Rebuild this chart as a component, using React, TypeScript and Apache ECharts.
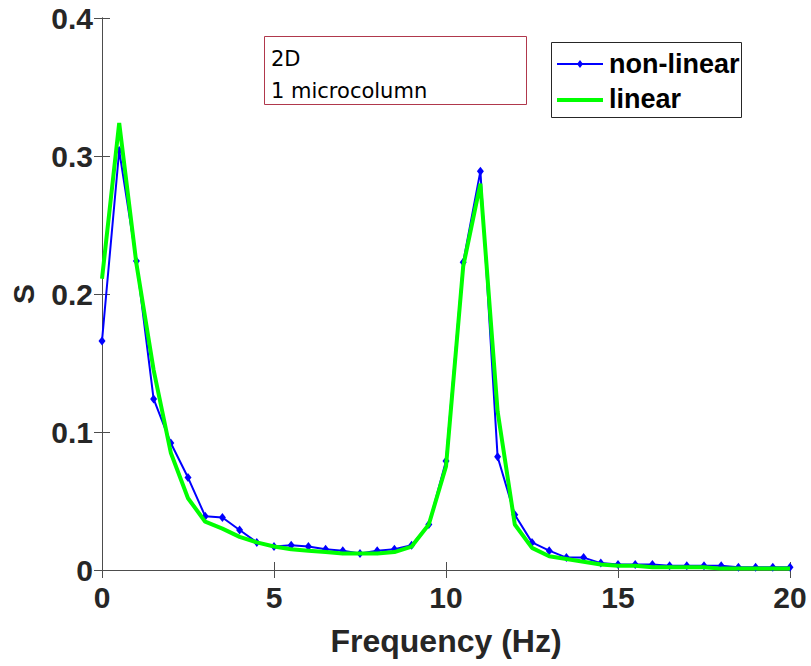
import React, { useEffect, useRef } from "react";
import * as echarts from "echarts";

const freq: number[] = [];
for (let i = 0; i <= 40; i++) freq.push(i * 0.5);

const nonLinear = [
  0.166, 0.304, 0.224, 0.124, 0.092, 0.067, 0.039, 0.038, 0.029, 0.020,
  0.017, 0.018, 0.017, 0.015, 0.014, 0.012, 0.014, 0.015, 0.018, 0.033,
  0.079, 0.223, 0.289, 0.082, 0.040, 0.020, 0.014, 0.009, 0.009, 0.005,
  0.004, 0.004, 0.004, 0.003, 0.003, 0.003, 0.003, 0.002, 0.002, 0.002,
  0.002,
];

const linear = [
  0.211, 0.324, 0.222, 0.145, 0.085, 0.052, 0.035, 0.030, 0.024, 0.020,
  0.017, 0.015, 0.014, 0.013, 0.012, 0.012, 0.012, 0.013, 0.017, 0.033,
  0.075, 0.220, 0.280, 0.115, 0.033, 0.016, 0.010, 0.008, 0.006, 0.004,
  0.003, 0.003, 0.002, 0.002, 0.002, 0.002, 0.001, 0.001, 0.001, 0.001,
  0.001,
];

const seriesNames = ["non-linear", "linear"];
const annotationLines = ["2D", "1 microcolumn"];

const FONT = "Liberation Sans, Arial, sans-serif";
const AXIS_COLOR = "#262626";

export default function App() {
  const ref = useRef<HTMLDivElement>(null);
  useEffect(() => {
    if (!ref.current) return;
    const chart = echarts.init(ref.current, null, { renderer: "svg" });
    const axisLine = { show: true, lineStyle: { color: "#4d4d4d", width: 1 } };
    const tick = { show: true, inside: true, length: 8, lineStyle: { color: "#4d4d4d" } };
    chart.setOption({
      animation: false,
      backgroundColor: "#fff",
      grid: { left: 101, right: 21, top: 18, bottom: 96 },
      xAxis: [
        {
          type: "value",
          min: 0,
          max: 20,
          interval: 5,
          name: "Frequency (Hz)",
          nameLocation: "middle",
          nameGap: 55,
          nameTextStyle: { fontFamily: FONT, fontWeight: "bold", fontSize: 32, color: AXIS_COLOR },
          axisLine,
          axisTick: tick,
          axisLabel: { fontFamily: FONT, fontWeight: "bold", fontSize: 30, color: AXIS_COLOR, margin: 12 },
          splitLine: { show: false },
        },
        {
          type: "value",
          position: "top",
          min: 0,
          max: 20,
          interval: 5,
          axisLine,
          axisTick: tick,
          axisLabel: { show: false },
          splitLine: { show: false },
        },
      ],
      yAxis: [
        {
          type: "value",
          min: 0,
          max: 0.4,
          interval: 0.1,
          name: "S",
          nameLocation: "middle",
          nameGap: 64,
          nameTextStyle: { fontFamily: FONT, fontWeight: "bold", fontSize: 30, color: AXIS_COLOR },
          axisLine,
          axisTick: tick,
          axisLabel: {
            fontFamily: FONT,
            fontWeight: "bold",
            fontSize: 30,
            color: AXIS_COLOR,
            margin: 9,
            formatter: (v: number) => (v === 0 ? "0" : v.toFixed(1)),
          },
          splitLine: { show: false },
        },
        {
          type: "value",
          position: "right",
          min: 0,
          max: 0.4,
          interval: 0.1,
          axisLine,
          axisTick: tick,
          axisLabel: { show: false },
          splitLine: { show: false },
        },
      ],
      graphic: [
        {
          type: "rect",
          shape: { x: 264.5, y: 36.5, width: 262, height: 68 },
          style: { fill: "#fff", stroke: "#b0384c", lineWidth: 1 },
          z: 10,
        },
        {
          type: "text",
          x: 271,
          y: 59,
          style: { text: annotationLines[0], font: `21px DejaVu Sans`, fill: "#000", verticalAlign: "middle" },
          z: 11,
        },
        {
          type: "text",
          x: 271,
          y: 91,
          style: { text: annotationLines[1], font: `21px DejaVu Sans`, fill: "#000", verticalAlign: "middle" },
          z: 11,
        },
        {
          type: "rect",
          shape: { x: 551.5, y: 42.5, width: 190, height: 75 },
          style: { fill: "#fff", stroke: "#262626", lineWidth: 1 },
          z: 10,
        },
        {
          type: "line",
          shape: { x1: 557, y1: 64, x2: 603, y2: 64 },
          style: { stroke: "#0000ff", lineWidth: 2 },
          z: 11,
        },
        {
          type: "polygon",
          shape: { points: [[580, 60], [583, 64], [580, 68], [577, 64]] },
          style: { fill: "#0000ff" },
          z: 11,
        },
        {
          type: "line",
          shape: { x1: 557, y1: 100, x2: 603, y2: 100 },
          style: { stroke: "#00ff00", lineWidth: 4 },
          z: 11,
        },
        {
          type: "text",
          x: 609,
          y: 64,
          style: { text: seriesNames[0], font: `bold 27px ${FONT}`, fill: "#000", verticalAlign: "middle" },
          z: 11,
        },
        {
          type: "text",
          x: 609,
          y: 99,
          style: { text: seriesNames[1], font: `bold 27px ${FONT}`, fill: "#000", verticalAlign: "middle" },
          z: 11,
        },
      ],
      series: [
        {
          name: seriesNames[0],
          type: "line",
          data: freq.map((f, i) => [f, nonLinear[i]]),
          symbol: "diamond",
          symbolSize: [7, 9],
          showSymbol: true,
          itemStyle: { color: "#0000ff" },
          lineStyle: { color: "#0000ff", width: 2 },
          z: 2,
        },
        {
          name: seriesNames[1],
          type: "line",
          data: freq.map((f, i) => [f, linear[i]]),
          symbol: "none",
          itemStyle: { color: "#00ff00" },
          lineStyle: { color: "#00ff00", width: 4 },
          z: 3,
        },
      ],
    });
    return () => chart.dispose();
  }, []);
  return (
    <div
      ref={ref}
      style={{ position: "absolute", left: 0, top: 0, width: 811, height: 666 }}
    />
  );
}
